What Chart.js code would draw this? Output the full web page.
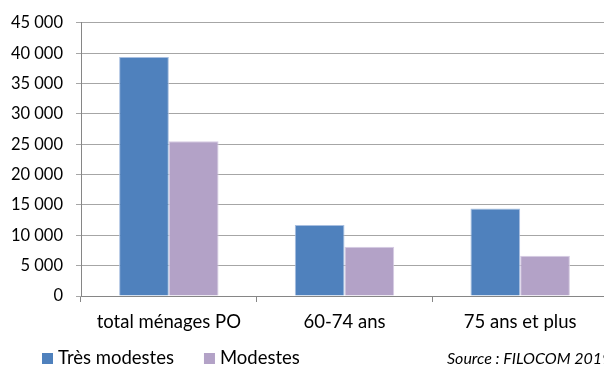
<!DOCTYPE html>
<html lang="fr">
  <head>
    <meta charset="UTF-8" />
    <title>Ménages PO modestes et très modestes</title>
    <script src="https://cdn.jsdelivr.net/npm/chart.js"></script>
    <style>
      html, body { margin: 0; padding: 0; background: #fff; overflow: hidden; }
      #wrap { position: relative; width: 608px; height: 366px; }
    </style>
  </head>
  <body>
    <div id="wrap"><canvas id="chart"></canvas></div>
    <script>
      const categories = ["total ménages PO", "60-74 ans", "75 ans et plus"];
      const tresModestes = [39400, 11700, 14400];
      const modestes = [25500, 8100, 6650];
      const seriesNames = ["Très modestes", "Modestes"];
      const yTicks = [0, 5000, 10000, 15000, 20000, 25000, 30000, 35000, 40000, 45000];
      const sourceText = "Source : FILOCOM 2019";

      const FONT = "Lato, 'Open Sans', sans-serif";

      // légende + source dessinées à la main (position fixe comme dans Excel)
      const bottomLegend = {
        id: "bottomLegend",
        afterDraw(chart) {
          const ctx = chart.ctx;
          ctx.save();
          ctx.textBaseline = "middle";
          ctx.font = "18.5px " + FONT;
          let x = 42;
          const y = 358;
          chart.data.datasets.forEach((ds) => {
            ctx.fillStyle = ds.backgroundColor;
            ctx.fillRect(x, y - 5, 11, 11);
            ctx.fillStyle = "#000";
            ctx.fillText(ds.label, x + 16, y);
            x += 16 + ctx.measureText(ds.label).width + 30;
          });
          ctx.font = "italic 16px " + FONT;
          ctx.fillText(sourceText, 447, 359);
          ctx.restore();
        },
      };

      new Chart(document.getElementById("chart"), {
        type: "bar",
        data: {
          labels: categories,
          datasets: [
            { label: seriesNames[0], data: tresModestes, backgroundColor: "#4f81bd", borderColor: "#a8bfe0", borderWidth: 1 },
            { label: seriesNames[1], data: modestes, backgroundColor: "#b3a2c7", borderColor: "#d6cbe3", borderWidth: 1 },
          ],
        },
        options: {
          responsive: true,
          maintainAspectRatio: false,
          animation: false,
          layout: { padding: { top: 19, right: 0, bottom: 0, left: 0 } },
          datasets: { bar: { categoryPercentage: 0.566, barPercentage: 1 } },
          plugins: { legend: { display: false }, tooltip: { enabled: false } },
          scales: {
            x: {
              afterFit: (s) => { s.height = 70; },
              grid: { drawOnChartArea: false, tickLength: 6, color: "#868686" },
              border: { color: "#868686" },
              ticks: { color: "#000", padding: 9, font: { family: FONT, size: 18.5 } },
            },
            y: {
              min: 0,
              max: 45000,
              afterFit: (s) => { s.width = 81; },
              afterBuildTicks: (s) => { s.ticks = yTicks.map((v) => ({ value: v })); },
              grid: { color: "#a6a6a6", tickLength: 5 },
              border: { color: "#868686" },
              ticks: {
                color: "#000",
                padding: 13,
                font: { family: FONT, size: 16.5 },
                callback: (v) => v.toLocaleString("fr-FR").replace(/\u202f|\u00a0/g, " "),
              },
            },
          },
        },
        plugins: [bottomLegend],
      });
    </script>
  </body>
</html>
